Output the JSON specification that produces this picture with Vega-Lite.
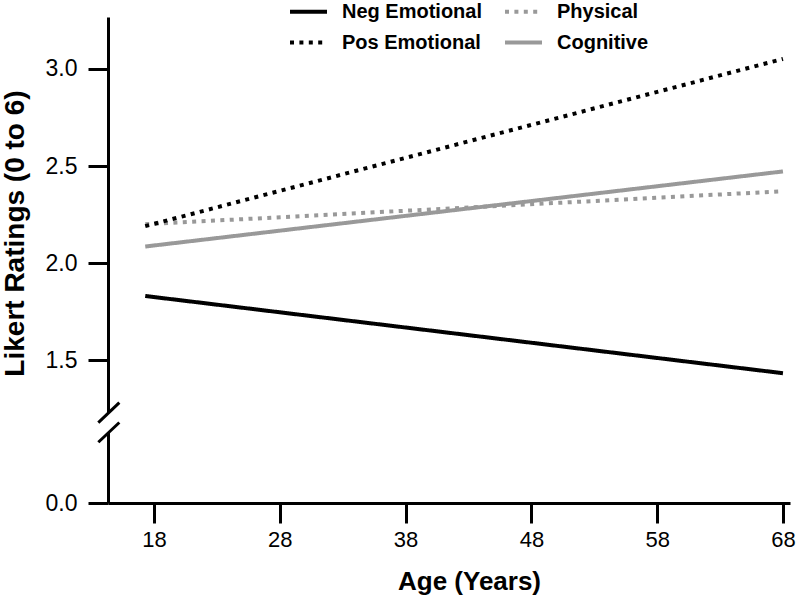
{
  "$schema": "https://vega.github.io/schema/vega-lite/v6.json",
  "width": 682,
  "height": 486,
  "autosize": {"type": "none"},
  "padding": {"left": 108, "top": 17, "right": 10, "bottom": 92},
  "background": "white",
  "config": {
    "view": {"stroke": null},
    "font": "Liberation Sans",
    "axis": {
      "grid": false,
      "domainColor": "black",
      "tickColor": "black",
      "domainWidth": 3,
      "tickWidth": 3,
      "tickSize": 20,
      "labelColor": "black",
      "titleColor": "black",
      "labelFont": "Liberation Sans",
      "titleFont": "Liberation Sans",
      "titleFontWeight": "bold"
    }
  },
  "datasets": {
    "lines": [
      {"series": "Neg Emotional", "age": 17.3, "rating": 1.83},
      {"series": "Neg Emotional", "age": 68, "rating": 1.432},
      {"series": "Physical", "age": 17.3, "rating": 2.2},
      {"series": "Physical", "age": 68, "rating": 2.37},
      {"series": "Pos Emotional", "age": 17.3, "rating": 2.19},
      {"series": "Pos Emotional", "age": 68, "rating": 3.052},
      {"series": "Cognitive", "age": 17.3, "rating": 2.085},
      {"series": "Cognitive", "age": 68, "rating": 2.472}
    ],
    "gap": [
      {"x": 14.08, "x2": 14.6, "y": 1.227, "y2": 1.126}
    ],
    "slashes": [
      {"x": 13.57, "x2": 15.24, "y": 1.177, "y2": 1.28},
      {"x": 13.57, "x2": 15.24, "y": 1.076, "y2": 1.178}
    ]
  },
  "layer": [
    {
      "data": {"name": "lines"},
      "mark": {"type": "line", "strokeWidth": 4, "strokeCap": "butt"},
      "encoding": {
        "x": {
          "field": "age", "type": "quantitative",
          "scale": {"domain": [14.34, 68.56], "nice": false, "zero": false},
          "axis": {
            "values": [18, 28, 38, 48, 58, 68],
            "title": "Age (Years)",
            "labelFontSize": 22,
            "labelPadding": 6,
            "titleFontSize": 26,
            "titleBaseline": "alphabetic",
            "titleX": 361,
            "titleY": 86
          }
        },
        "y": {
          "field": "rating", "type": "quantitative",
          "scale": {"domain": [0.763, 3.268], "nice": false, "zero": false},
          "axis": {
            "values": [0.763, 1.5, 2.0, 2.5, 3.0],
            "labelExpr": "datum.value < 1 ? '0.0' : format(datum.value, '.1f')",
            "title": "Likert Ratings (0 to 6)",
            "labelFontSize": 23,
            "labelPadding": 11,
            "titleFontSize": 28,
            "titleAngle": -90,
            "titleBaseline": "alphabetic",
            "titleAlign": "center",
            "titleX": -85,
            "titleY": 216
          }
        },
        "color": {
          "field": "series", "type": "nominal",
          "scale": {
            "domain": ["Neg Emotional", "Pos Emotional", "Physical", "Cognitive"],
            "range": ["#000000", "#000000", "#999999", "#999999"]
          },
          "legend": {
            "orient": "none", "legendX": 180, "legendY": -26, "columns": 2,
            "title": null, "padding": 0, "symbolType": "stroke", "symbolSize": 1369,
            "symbolStrokeWidth": 4, "labelFontSize": 20, "labelFontWeight": "bold",
            "labelFont": "Liberation Sans", "labelColor": "black", "labelOffset": 13,
            "columnPadding": 14, "rowPadding": -21
          }
        },
        "strokeDash": {
          "field": "series", "type": "nominal",
          "scale": {
            "domain": ["Neg Emotional", "Pos Emotional", "Physical", "Cognitive"],
            "range": [[1, 0], [4, 5.4], [4, 5.4], [1, 0]]
          },
          "legend": {
            "orient": "none", "legendX": 180, "legendY": -26, "columns": 2,
            "title": null, "padding": 0, "symbolType": "stroke", "symbolSize": 1369,
            "symbolStrokeWidth": 4, "labelFontSize": 20, "labelFontWeight": "bold",
            "labelFont": "Liberation Sans", "labelColor": "black", "labelOffset": 13,
            "columnPadding": 14, "rowPadding": -21
          }
        }
      }
    },
    {
      "data": {"name": "gap"},
      "mark": {"type": "rect", "color": "white"},
      "encoding": {
        "x": {"field": "x", "type": "quantitative"},
        "x2": {"field": "x2"},
        "y": {"field": "y", "type": "quantitative"},
        "y2": {"field": "y2"}
      }
    },
    {
      "data": {"name": "slashes"},
      "mark": {"type": "rule", "color": "black", "strokeWidth": 3},
      "encoding": {
        "x": {"field": "x", "type": "quantitative"},
        "x2": {"field": "x2"},
        "y": {"field": "y", "type": "quantitative"},
        "y2": {"field": "y2"}
      }
    }
  ]
}
